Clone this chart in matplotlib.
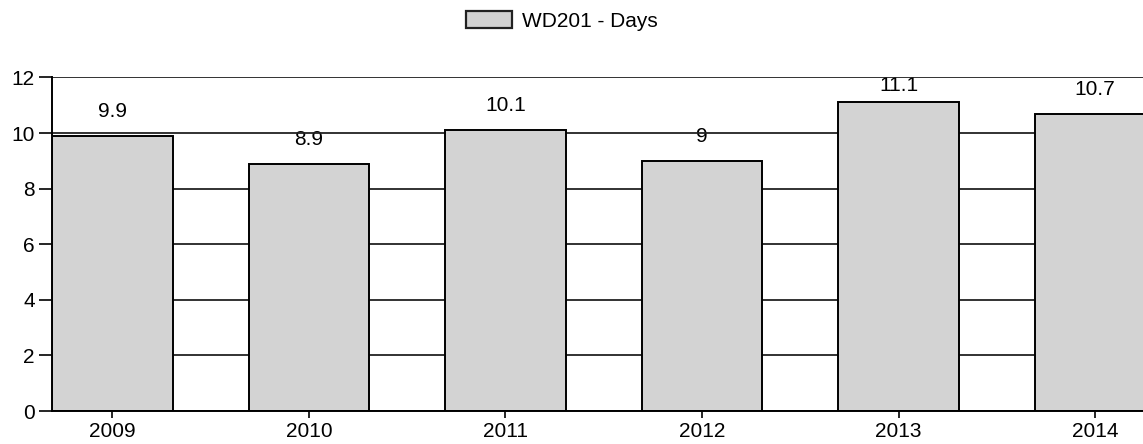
import matplotlib
matplotlib.use("Agg")
import matplotlib.pyplot as plt
from matplotlib.patches import Patch

categories = ["2009", "2010", "2011", "2012", "2013", "2014"]
values = [9.9, 8.9, 10.1, 9.0, 11.1, 10.7]
labels = ["9.9", "8.9", "10.1", "9", "11.1", "10.7"]
series_name = "WD201 - Days"

plt.rcParams['font.family'] = ['Liberation Sans', 'DejaVu Sans']
FS = 15

fig = plt.figure(figsize=(11.43, 4.44), dpi=100)
ax = fig.add_axes([0.0455, 0.0743, 1.0 - 0.0455, 0.7512])

x = list(range(len(categories)))
bw = 0.615
ax.bar(x, values, width=bw, color="#d3d3d3", edgecolor="black", linewidth=1.4, zorder=3)

ax.set_ylim(0, 12)
ax.set_xlim(-bw / 2, 5.244)
ax.set_yticks(range(0, 13, 2))
ax.set_xticks(x)
ax.set_xticklabels(categories)

ax.grid(axis="y", color="#222222", linewidth=1.3, zorder=2)
ax.set_axisbelow(False)
for gl in ax.get_ygridlines():
    gl.set_zorder(2)

for s in ["top", "right"]:
    ax.spines[s].set_visible(False)
for s in ["left", "bottom"]:
    ax.spines[s].set_linewidth(1.4)
    ax.spines[s].set_zorder(4)

ax.tick_params(axis="y", length=9.5, width=1.2, pad=3, labelsize=FS)
ax.tick_params(axis="x", length=5, width=1.2, pad=3, labelsize=FS)

for xi, v, lab in zip(x, values, labels):
    y = min(v + 0.68, 11.5)
    ax.text(xi, y, lab, ha="center", va="baseline", fontsize=FS, zorder=1)

handle = Patch(facecolor="#d3d3d3", edgecolor="#222222", linewidth=1.6)
fig.legend([handle], [series_name], loc="center left",
           bbox_to_anchor=(465.7 / 1143, 1 - 21 / 444), borderaxespad=0, borderpad=0,
           frameon=False, handlelength=2.2, handleheight=0.9, handletextpad=0.48, fontsize=FS)

fig.savefig("out.png", dpi=100)
